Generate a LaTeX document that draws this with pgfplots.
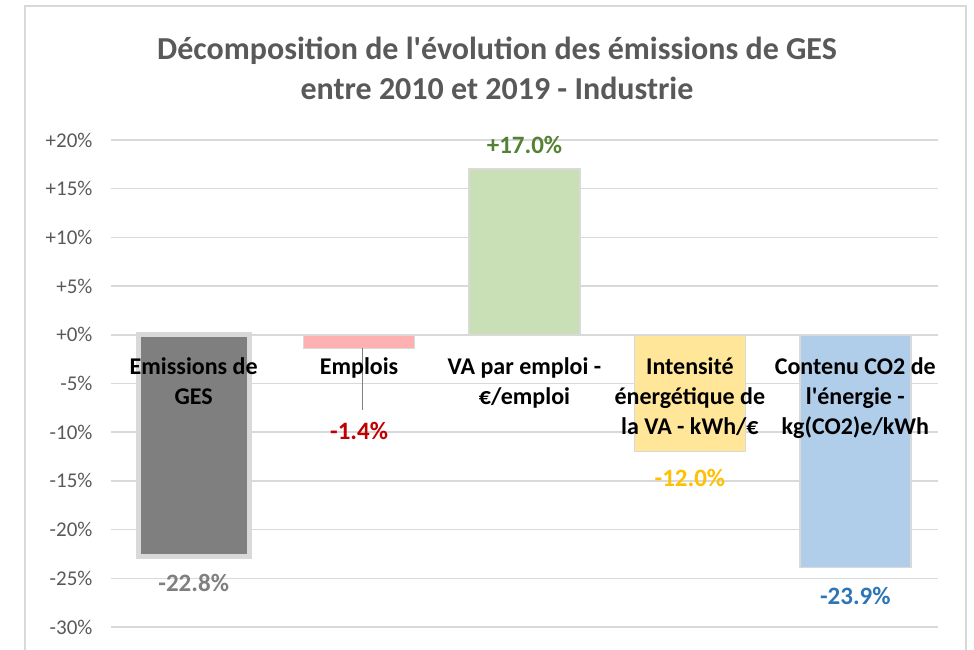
\documentclass[border=0pt]{standalone}
\usepackage{fontspec}
\setmainfont{Carlito}
\usepackage{pgfplots}
\pgfplotsset{compat=1.18}
\definecolor{gridc}{HTML}{D9D9D9}
\definecolor{txtgray}{HTML}{595959}
\definecolor{bargray}{HTML}{7F7F7F}
\definecolor{barpink}{HTML}{FFB1B1}
\definecolor{bargreen}{HTML}{C9E0B6}
\definecolor{baryellow}{HTML}{FFE699}
\definecolor{barblue}{HTML}{B0CDEA}
\definecolor{labgray}{HTML}{7F7F7F}
\definecolor{labred}{HTML}{C00000}
\definecolor{labgreen}{HTML}{538135}
\definecolor{labyellow}{HTML}{FFC000}
\definecolor{labblue}{HTML}{2E75B6}
\begin{document}
\begin{tikzpicture}[x=1pt,y=1pt]
\useasboundingbox (0,0) rectangle (974,650);
\draw[gridc, line width=2pt] (25,0) -- (25,644) -- (966,644) -- (966,0);
\node[font=\bfseries\fontsize{32}{40}\selectfont, text=txtgray, align=center] at (497,582)
  {Décomposition de l\textquotesingle évolution des émissions de GES\\entre 2010 et 2019 - Industrie};
\begin{axis}[
  at={(111pt,23pt)}, anchor=south west,
  scale only axis, width=827pt, height=487pt,
  xmin=-0.5, xmax=4.5, ymin=-30, ymax=20,
  ytick={-30,-25,-20,-15,-10,-5,0,5,10,15,20},
  yticklabels={-30\%,-25\%,-20\%,-15\%,-10\%,-5\%,+0\%,+5\%,+10\%,+15\%,+20\%},
  xtick=\empty,
  ymajorgrids, grid style={draw=gridc, line width=1.5pt},
  axis line style={draw=none},
  major tick length=0pt,
  yticklabel style={font=\fontsize{21}{24}\selectfont, text=txtgray, xshift=-15pt},
  ybar, bar width=111pt,
  clip=false,
  nodes near coords={\pgfmathprintnumber[fixed,fixed zerofill,precision=1,showpos,assume math mode=true]{\pgfplotspointmeta}\%},
  every node near coord/.append style={font=\bfseries\fontsize{25}{28}\selectfont},
]
\addplot[fill=bargray, draw=gridc, line width=5pt, bar shift=0pt,
  nodes near coords style={text=labgray, yshift=-11.5pt}] coordinates {(0,-22.8)};
\addplot[fill=barpink, draw=gridc, line width=1.5pt, bar shift=0pt,
  nodes near coords style={text=labred, yshift=-70pt}] coordinates {(1,-1.4)};
\addplot[fill=bargreen, draw=gridc, line width=1.5pt, bar shift=0pt,
  nodes near coords style={text=labgreen, yshift=11pt}] coordinates {(2,17.0)};
\addplot[fill=baryellow, draw=gridc, line width=1.5pt, bar shift=0pt,
  nodes near coords style={text=labyellow, yshift=-14pt}] coordinates {(3,-12.0)};
\addplot[fill=barblue, draw=gridc, line width=1.5pt, bar shift=0pt,
  nodes near coords style={text=labblue, yshift=-15.5pt}] coordinates {(4,-23.9)};
\draw[gray, line width=1.2pt] (axis cs:1.02,-1.4) -- (axis cs:1.02,-7.7);
\begin{scope}[every node/.style={font=\bfseries\fontsize{24}{30}\selectfont, align=center, anchor=north, inner sep=0pt}]
\node at (axis cs:0,-2.35) {Emissions de\\GES};
\node at (axis cs:1,-2.35) {Emplois};
\node at (axis cs:2,-2.35) {VA par emploi -\\€/emploi};
\node at (axis cs:3,-2.35) {Intensité\\énergétique de\\la VA - kWh/€};
\node at (axis cs:4,-2.35) {Contenu CO2 de\\l\textquotesingle énergie -\\kg(CO2)e/kWh};
\end{scope}
\end{axis}
\end{tikzpicture}
\end{document}
